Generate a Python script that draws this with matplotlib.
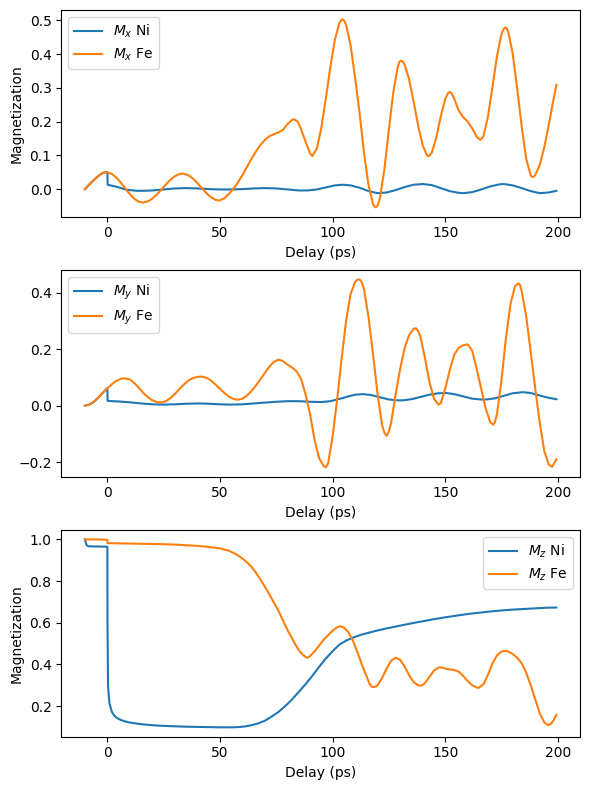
import matplotlib
matplotlib.use("Agg")
import matplotlib.pyplot as plt

# ---------------- Panel 1: Mx ----------------
t_mx_fe = [-10, -8, -6, -4, -2, -1, 0, 2, 4, 6, 8, 10, 12, 14, 15.7, 18, 20, 22, 24, 26, 28, 30, 32, 33.4,
           36, 38, 40, 42, 44, 46, 48, 49.7, 52, 54, 56, 58, 60, 62, 64, 66, 68, 70, 72, 74, 76, 78, 80, 82, 83,
           84.5, 86, 88, 90, 91, 93, 95, 97, 99, 101, 103, 103.7, 104.4, 105.2, 106, 108, 110, 112, 114, 116, 118,
           118.6, 119.2, 120, 121, 123, 125, 127, 129, 129.7, 130.4, 131.2, 132, 134, 136, 138, 140, 142, 142.7,
           144, 146, 148, 150, 151.2, 152, 152.8,
           154, 156, 158, 160, 162, 164, 165.7, 167, 169, 171, 173, 175, 175.9, 176.7, 177.4, 178, 180, 182, 184,
           186, 188, 188.7, 189.4, 190, 192, 194, 196, 198, 199.4]
mx_fe = [0.0, 0.014, 0.027, 0.039, 0.048, 0.050, 0.050, 0.045, 0.034, 0.019, 0.0015, -0.015, -0.029, -0.0376, -0.040,
         -0.0365, -0.028, -0.0158, -0.0012, 0.0139, 0.0278, 0.0384, 0.0447, 0.046,
         0.041, 0.0313, 0.0178, 0.0026, -0.0122, -0.0242, -0.0319, -0.034, -0.027, -0.014, 0.001, 0.020, 0.042,
         0.066, 0.090, 0.112, 0.131, 0.146, 0.157, 0.163, 0.168, 0.176, 0.193, 0.205, 0.207,
         0.200, 0.178, 0.140, 0.106, 0.098, 0.120, 0.181, 0.268, 0.361, 0.442, 0.492, 0.500, 0.503, 0.499, 0.487,
         0.426, 0.330, 0.225, 0.105, 0.010, -0.045,
         -0.051, -0.054, -0.049, -0.027, 0.058, 0.176, 0.289, 0.364, 0.377, 0.381, 0.378, 0.369, 0.325, 0.259,
         0.188, 0.130, 0.099, 0.098,
         0.107, 0.151, 0.214, 0.267, 0.284, 0.288, 0.285,
         0.268, 0.233, 0.213, 0.200, 0.180, 0.155, 0.146, 0.157, 0.215, 0.303, 0.394, 0.460, 0.474, 0.479, 0.476,
         0.466, 0.401, 0.297, 0.184,
         0.089, 0.040, 0.036, 0.037, 0.042, 0.072, 0.124, 0.190, 0.262, 0.309]

t_mx_ni = [-10, -8, -6, -4, -2, -1, 0, 0.1, 2, 4, 6, 8, 10, 13, 16, 20, 25, 30, 35, 40, 45, 50, 55, 60, 65, 70, 75,
           80, 85, 89, 93, 97, 101, 104.5, 108, 112, 116, 120, 124, 128, 132, 136, 140, 144, 148, 152, 156, 158,
           162, 166, 170, 174, 176, 180, 184, 188, 192, 196, 199.4]
mx_ni = [0.0, 0.014, 0.027, 0.039, 0.048, 0.050, 0.050, 0.013, 0.010, 0.007, 0.003, -0.001, -0.003, -0.005, -0.005,
         -0.004, -0.001, 0.002, 0.003, 0.002, 0.000, -0.001, -0.001, 0.000, 0.002, 0.003, 0.002,
         -0.001, -0.004, -0.004, -0.001, 0.005, 0.011, 0.013, 0.011, 0.004, -0.006, -0.012, -0.010, -0.003, 0.006,
         0.013, 0.015, 0.012, 0.003, -0.006, -0.011, -0.012,
         -0.009, -0.001, 0.008, 0.014, 0.015, 0.011, 0.003, -0.006, -0.012, -0.010, -0.005]

# ---------------- Panel 2: My ----------------
t_my_fe = [-10, -8, -6, -4, -2, 0, 2, 4, 6, 7.6, 10, 12, 14, 16, 18, 20, 22, 24, 26, 28, 30, 32, 34, 36, 38, 40,
           42, 44, 46, 48, 50, 52, 54, 56, 58, 60, 62, 64, 66, 68, 70, 72, 74, 76, 78, 80, 82, 84, 86, 88, 90,
           92, 94, 96, 97, 98, 100, 102, 104, 106, 108, 110, 111, 112, 113, 114, 116, 118, 120, 122, 123, 124,
           125, 126, 128, 130,
           132, 134, 136, 137, 138, 139, 141, 143, 145, 147, 148, 150, 152, 154, 156, 158, 160, 162, 164, 166, 168,
           170, 171.3, 172, 173, 175, 177, 179, 181, 182.5, 183.2, 184, 186, 188, 190, 192, 194, 196, 197.5, 199.4]
my_fe = [0.0, 0.004, 0.014, 0.029, 0.046, 0.062, 0.076, 0.088, 0.095, 0.097, 0.093, 0.080, 0.063, 0.045, 0.030,
         0.019, 0.013, 0.012, 0.016, 0.027, 0.042, 0.059, 0.075, 0.089, 0.098, 0.102,
         0.103, 0.099, 0.089, 0.075, 0.060, 0.045, 0.032, 0.024, 0.021, 0.025, 0.036, 0.052, 0.072, 0.094, 0.117,
         0.139, 0.156, 0.163, 0.158, 0.145, 0.135, 0.122, 0.095, 0.040, -0.030,
         -0.120, -0.185, -0.213, -0.218, -0.205, -0.110, 0.020, 0.165, 0.300, 0.395, 0.438, 0.446, 0.447, 0.437,
         0.410, 0.310, 0.180, 0.040, -0.070, -0.095, -0.107,
         -0.092, -0.060, 0.040, 0.130,
         0.205, 0.250, 0.272, 0.274, 0.265, 0.245, 0.170, 0.085, 0.025, 0.004, 0.008, 0.060, 0.125, 0.180, 0.205,
         0.214, 0.217, 0.195, 0.130, 0.060, -0.010,
         -0.058, -0.067, -0.060, -0.030, 0.090, 0.240, 0.360, 0.423, 0.433, 0.428, 0.405, 0.315, 0.190, 0.060,
         -0.060, -0.160, -0.208, -0.216, -0.190]

t_my_ni = [-10, -8, -6, -4, -2, 0, 0.1, 5, 10, 15, 20, 25, 30, 35, 40, 45, 50, 55, 60, 65, 70, 75, 80, 85, 90, 95,
           99, 103, 107, 110, 113.5, 117, 121, 125, 129, 131, 135, 139, 143, 147, 150.5, 154, 158, 162, 166, 168,
           172, 176, 180, 184.5, 188, 192, 196, 199.4]
my_ni = [0.0, 0.004, 0.014, 0.029, 0.046, 0.062, 0.017, 0.015, 0.012, 0.008, 0.005, 0.004, 0.005, 0.007, 0.008,
         0.007, 0.005, 0.004, 0.005, 0.008, 0.011, 0.014, 0.016, 0.016, 0.014, 0.013,
         0.016, 0.024, 0.033, 0.039, 0.041, 0.038, 0.030, 0.022, 0.019, 0.019, 0.023, 0.031, 0.039, 0.044, 0.045,
         0.041, 0.033, 0.025, 0.022, 0.022,
         0.026, 0.035, 0.044, 0.048, 0.045, 0.036, 0.028, 0.023]

# ---------------- Panel 3: Mz ----------------
t_mz_fe = [-10, -5, 0, 0.1, 5, 10, 15, 20, 25, 30, 35, 40, 45, 50, 54, 57, 60, 62, 64, 66, 68, 70, 72, 74, 76, 78,
           80, 82, 84, 86, 88, 89, 90, 92, 94, 96, 98, 100, 102, 103.5, 105, 107, 109, 111, 113, 115, 116.5, 117.3,
           118, 119, 120, 122, 124, 126, 128, 130, 132, 134, 136, 138, 139.5, 141, 143, 145, 147, 148, 150, 152,
           154, 156, 158, 160, 162, 164, 165, 167, 169, 171, 173, 175, 176.5, 178, 180, 182, 184, 186, 188, 190,
           192, 194, 195.7, 197, 198, 199.4]
mz_fe = [1.000, 1.000, 0.998, 0.982, 0.981, 0.980, 0.979, 0.978, 0.977, 0.975, 0.972, 0.969, 0.964, 0.957, 0.945,
         0.930, 0.908, 0.890, 0.868, 0.840, 0.806, 0.772, 0.735, 0.695, 0.657, 0.610,
         0.565, 0.525, 0.485, 0.455, 0.435, 0.432, 0.440, 0.462, 0.490, 0.518, 0.540, 0.562, 0.578, 0.583, 0.577,
         0.555, 0.515, 0.460, 0.400, 0.345, 0.305, 0.294,
         0.291, 0.293, 0.300, 0.335, 0.380, 0.418, 0.432, 0.422, 0.390, 0.348, 0.315, 0.300, 0.298, 0.310, 0.340,
         0.370, 0.385, 0.386, 0.380, 0.376,
         0.373, 0.365, 0.345, 0.320, 0.300, 0.289, 0.288, 0.305, 0.350, 0.405, 0.443, 0.462, 0.465, 0.462, 0.450,
         0.432, 0.405, 0.360, 0.300, 0.232,
         0.165, 0.122, 0.108, 0.115, 0.130, 0.158]

t_mz_ni = [-10, -9.6, -9.2, -8.5, -5, 0, 0.05, 0.3, 0.6, 1, 2, 3, 4, 6, 8, 10, 13, 16, 20, 25, 30, 35, 40, 45, 50,
           55, 58, 61, 64, 67, 70, 73, 76, 79, 82, 85, 88, 91, 94, 97, 100, 103, 106, 109, 112, 116, 120, 125,
           130, 135, 140, 145, 150, 155, 160, 165, 170, 175, 180, 185, 190, 195, 199.4]
mz_ni = [1.0, 0.985, 0.972, 0.967, 0.966, 0.965, 0.60, 0.30, 0.25, 0.21, 0.172, 0.155, 0.145, 0.133, 0.126, 0.121,
         0.116, 0.112, 0.108, 0.105, 0.103, 0.101, 0.100, 0.099, 0.098,
         0.098, 0.099, 0.102, 0.108, 0.117, 0.130, 0.150, 0.172, 0.200, 0.232, 0.268, 0.305, 0.345, 0.388, 0.428,
         0.463, 0.495, 0.514, 0.528, 0.540, 0.552, 0.563, 0.575,
         0.586, 0.597, 0.607, 0.617, 0.626, 0.634, 0.642, 0.648, 0.654, 0.659, 0.663, 0.666, 0.669, 0.672, 0.673]

labels_mx = [r"$M_x$ Ni", r"$M_x$ Fe"]
labels_my = [r"$M_y$ Ni", r"$M_y$ Fe"]
labels_mz = [r"$M_z$ Ni", r"$M_z$ Fe"]

fig, axes = plt.subplots(3, 1, figsize=(5.9, 7.9), dpi=100)

ax = axes[0]
ax.plot(t_mx_ni, mx_ni, label=labels_mx[0])
ax.plot(t_mx_fe, mx_fe, label=labels_mx[1])
ax.set_xlabel("Delay (ps)")
ax.set_ylabel("Magnetization")
ax.legend(loc="upper left")

ax = axes[1]
ax.plot(t_my_ni, my_ni, label=labels_my[0])
ax.plot(t_my_fe, my_fe, label=labels_my[1])
ax.set_xlabel("Delay (ps)")
ax.legend(loc="upper left")

ax = axes[2]
ax.plot(t_mz_ni, mz_ni, label=labels_mz[0])
ax.plot(t_mz_fe, mz_fe, label=labels_mz[1])
ax.set_xlabel("Delay (ps)")
ax.set_ylabel("Magnetization")
ax.legend(loc="upper right")

fig.tight_layout(pad=0.72)
fig.savefig("out.png")
